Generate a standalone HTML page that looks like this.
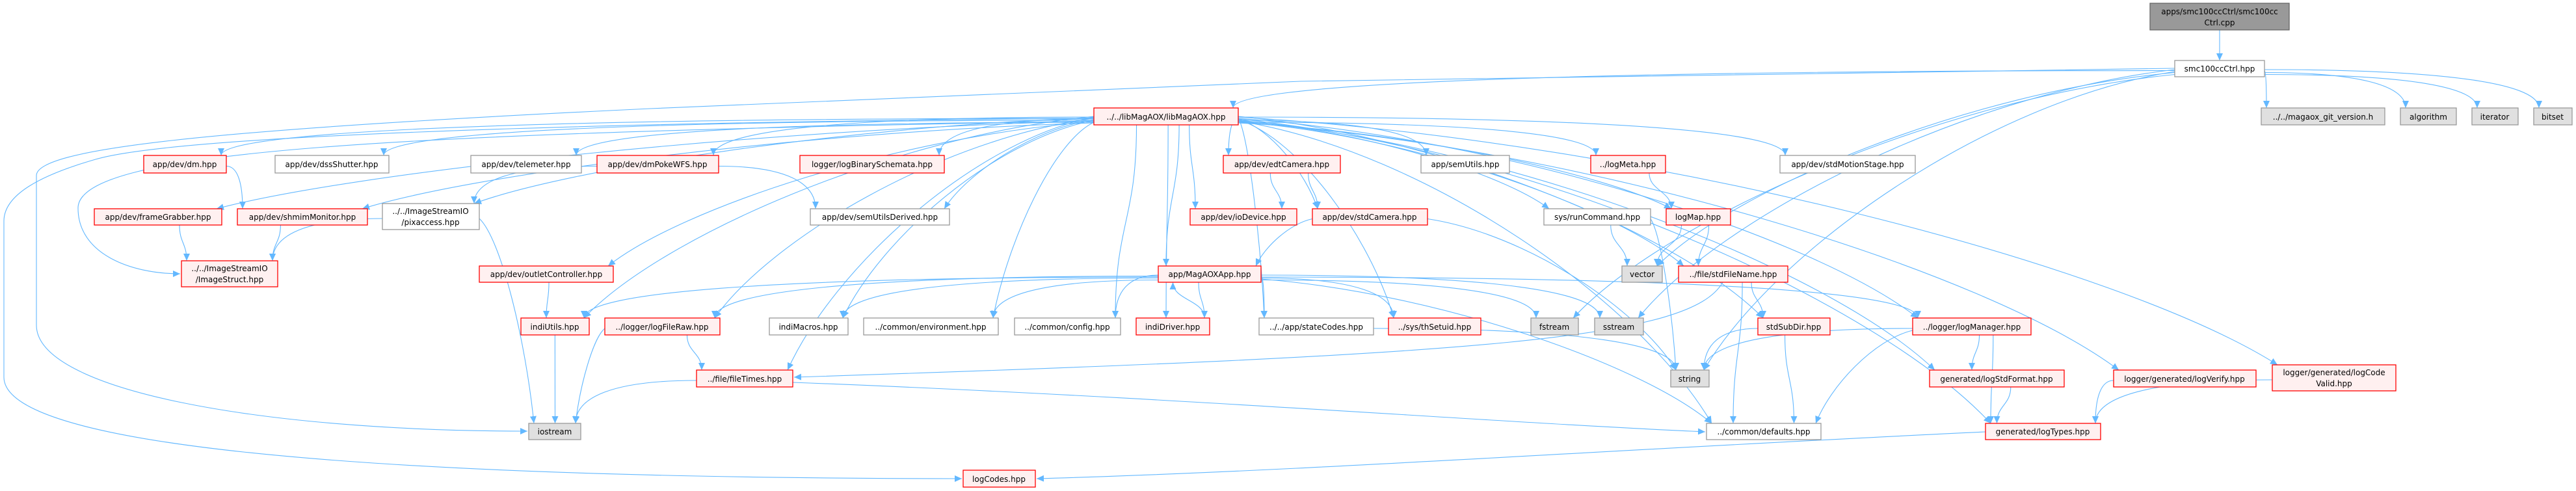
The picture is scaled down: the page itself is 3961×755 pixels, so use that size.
<!DOCTYPE html>
<html><head><meta charset="utf-8"><style>
html,body{margin:0;padding:0;background:#fff;}
svg{display:block;}
text{font-family:"DejaVu Sans","Liberation Sans",sans-serif;font-size:12px;fill:#000;text-anchor:middle;}
.r{fill:#fff0f0;stroke:#ff0000;stroke-width:1.3;}
.w{fill:#fff;stroke:#999;stroke-width:1.3;}
.g{fill:#e0e0e0;stroke:#999;stroke-width:1.3;}
.d{fill:#999;stroke:#666;stroke-width:1.3;}
#edges path{fill:none;stroke:#63b8ff;stroke-width:1.1;}
</style></head><body>
<svg id="s" width="3961" height="755" viewBox="0 0 3961 755" xmlns="http://www.w3.org/2000/svg">
<defs><marker id="a" markerUnits="userSpaceOnUse" markerWidth="12" markerHeight="10" refX="11" refY="5" orient="auto"><path d="M0,0 L11,5 L0,10 z" fill="#63b8ff"/></marker></defs>
<g id="edges"></g>
<g id="nodes">
<rect id="cpp" class="d" x="3306" y="5" width="214" height="41"/><text x="3413" y="22">apps/smc100ccCtrl/smc100cc</text><text x="3413" y="39">Ctrl.cpp</text>
<rect id="smc" class="w" x="3344" y="93" width="138" height="25"/><text x="3413" y="110">smc100ccCtrl.hpp</text>
<rect id="lib" class="r" x="1682" y="166" width="222" height="26"/><text x="1793" y="184">../../libMagAOX/libMagAOX.hpp</text>
<rect id="git" class="g" x="3477" y="166" width="190" height="26"/><text x="3572" y="184">../../magaox_git_version.h</text>
<rect id="alg" class="g" x="3691" y="166" width="86" height="26"/><text x="3734" y="184">algorithm</text>
<rect id="it" class="g" x="3801" y="166" width="71" height="26"/><text x="3836" y="184">iterator</text>
<rect id="bit" class="g" x="3896" y="166" width="59" height="26"/><text x="3925" y="184">bitset</text>

<rect id="dm" class="r" x="221" y="239" width="127" height="27"/><text x="284" y="257">app/dev/dm.hpp</text>
<rect id="dss" class="w" x="423" y="239" width="175" height="27"/><text x="510" y="257">app/dev/dssShutter.hpp</text>
<rect id="tele" class="w" x="724" y="239" width="170" height="27"/><text x="809" y="257">app/dev/telemeter.hpp</text>
<rect id="poke" class="r" x="918" y="239" width="187" height="27"/><text x="1011" y="257">app/dev/dmPokeWFS.hpp</text>
<rect id="bin" class="r" x="1230" y="239" width="222" height="27"/><text x="1341" y="257">logger/logBinarySchemata.hpp</text>
<rect id="edt" class="r" x="1881" y="239" width="180" height="27"/><text x="1971" y="257">app/dev/edtCamera.hpp</text>
<rect id="semu" class="w" x="2185" y="239" width="136" height="27"/><text x="2253" y="257">app/semUtils.hpp</text>
<rect id="meta" class="r" x="2446" y="239" width="115" height="27"/><text x="2503" y="257">../logMeta.hpp</text>
<rect id="motion" class="w" x="2737" y="239" width="208" height="27"/><text x="2841" y="257">app/dev/stdMotionStage.hpp</text>

<rect id="fg" class="r" x="145" y="321" width="196" height="25"/><text x="243" y="338">app/dev/frameGrabber.hpp</text>
<rect id="shm" class="r" x="365" y="321" width="200" height="25"/><text x="465" y="338">app/dev/shmimMonitor.hpp</text>
<rect id="pix" class="w" x="588" y="313" width="149" height="40"/><text x="662" y="329">../../ImageStreamIO</text><text x="662" y="346">/pixaccess.hpp</text>
<rect id="semd" class="w" x="1246" y="321" width="214" height="25"/><text x="1353" y="338">app/dev/semUtilsDerived.hpp</text>
<rect id="io" class="r" x="1830" y="321" width="164" height="25"/><text x="1912" y="338">app/dev/ioDevice.hpp</text>
<rect id="stdcam" class="r" x="2018" y="321" width="177" height="25"/><text x="2106" y="338">app/dev/stdCamera.hpp</text>
<rect id="run" class="w" x="2374" y="321" width="164" height="25"/><text x="2456" y="338">sys/runCommand.hpp</text>
<rect id="map" class="r" x="2562" y="321" width="99" height="25"/><text x="2611" y="338">logMap.hpp</text>

<rect id="is" class="r" x="279" y="401" width="148" height="40"/><text x="353" y="417">../../ImageStreamIO</text><text x="353" y="434">/ImageStruct.hpp</text>
<rect id="outlet" class="r" x="737" y="409" width="206" height="25"/><text x="840" y="426">app/dev/outletController.hpp</text>
<rect id="app" class="r" x="1781" y="409" width="158" height="25"/><text x="1860" y="426">app/MagAOXApp.hpp</text>
<rect id="vec" class="g" x="2494" y="409" width="62" height="25"/><text x="2525" y="426">vector</text>
<rect id="sfn" class="r" x="2581" y="409" width="168" height="25"/><text x="2665" y="426">../file/stdFileName.hpp</text>

<rect id="iu" class="r" x="801" y="489" width="105" height="26"/><text x="853" y="507">indiUtils.hpp</text>
<rect id="lfr" class="r" x="930" y="489" width="177" height="26"/><text x="1018" y="507">../logger/logFileRaw.hpp</text>
<rect id="im" class="w" x="1183" y="489" width="121" height="26"/><text x="1243" y="507">indiMacros.hpp</text>
<rect id="env" class="w" x="1328" y="489" width="207" height="26"/><text x="1431" y="507">../common/environment.hpp</text>
<rect id="cfg" class="w" x="1560" y="489" width="163" height="26"/><text x="1641" y="507">../common/config.hpp</text>
<rect id="idr" class="r" x="1747" y="489" width="113" height="26"/><text x="1803" y="507">indiDriver.hpp</text>
<rect id="sc" class="w" x="1936" y="489" width="176" height="26"/><text x="2024" y="507">../../app/stateCodes.hpp</text>
<rect id="ths" class="r" x="2135" y="489" width="142" height="26"/><text x="2206" y="507">../sys/thSetuid.hpp</text>
<rect id="fs" class="g" x="2354" y="489" width="73" height="26"/><text x="2390" y="507">fstream</text>
<rect id="ss" class="g" x="2452" y="489" width="75" height="26"/><text x="2489" y="507">sstream</text>
<rect id="ssd" class="r" x="2703" y="489" width="111" height="26"/><text x="2758" y="507">stdSubDir.hpp</text>
<rect id="lm" class="r" x="2941" y="489" width="182" height="26"/><text x="3032" y="507">../logger/logManager.hpp</text>

<rect id="ft" class="r" x="1071" y="569" width="148" height="26"/><text x="1145" y="587">../file/fileTimes.hpp</text>
<rect id="str" class="g" x="2569" y="569" width="59" height="26"/><text x="2598" y="587">string</text>
<rect id="lsf" class="r" x="2967" y="569" width="207" height="26"/><text x="3070" y="587">generated/logStdFormat.hpp</text>
<rect id="lv" class="r" x="3250" y="569" width="219" height="26"/><text x="3359" y="587">logger/generated/logVerify.hpp</text>
<rect id="lcv" class="r" x="3494" y="561" width="190" height="40"/><text x="3589" y="577">logger/generated/logCode</text><text x="3589" y="594">Valid.hpp</text>

<rect id="ios" class="g" x="813" y="651" width="80" height="25"/><text x="853" y="668">iostream</text>
<rect id="def" class="w" x="2624" y="651" width="176" height="25"/><text x="2712" y="668">../common/defaults.hpp</text>
<rect id="lt" class="r" x="3053" y="651" width="177" height="25"/><text x="3141" y="668">generated/logTypes.hpp</text>

<rect id="lc" class="r" x="1481" y="723" width="111" height="26"/><text x="1536" y="741">logCodes.hpp</text>
</g>
</svg>
<script>
(function(){
var NS="http://www.w3.org/2000/svg",E=document.getElementById("edges");
function b(id){var r=document.getElementById(id);var x=+r.getAttribute("x"),y=+r.getAttribute("y"),w=+r.getAttribute("width"),h=+r.getAttribute("height");return{x1:x,x2:x+w,y1:y,y2:y+h,cx:x+w/2,cy:y+h/2,h:h,w:w};}
function cl(v,a,c){return Math.max(a,Math.min(c,v));}
function add(d){var p=document.createElementNS(NS,"path");p.setAttribute("d",d);p.setAttribute("marker-end","url(#a)");E.appendChild(p);}
var cnt={};
function e(a,c){var s=b(a),t=b(c);var sx,sy,tx,ty;
 if(t.y1>=s.y2){
  var dx=t.cx-s.cx,dyy=t.y1-s.y2;
  tx=cl(s.cx,t.x1+8,t.x2-8);ty=t.y1;
  if(Math.abs(dx)>s.w/2+60){
   var side=dx>0?1:-1;var k=a+side;cnt[k]=(cnt[k]||0)+1;
   sx=side>0?s.x2:s.x1;sy=s.cy+((cnt[k]*3)%(s.h/2-2));
   if(dyy<60){
    add("M"+sx+","+sy+" C"+(sx+(tx-sx)*0.7)+","+sy+" "+tx+","+(sy+(ty-sy)*0.4)+" "+tx+","+ty);
   } else {
    add("M"+sx+","+sy+" C"+(sx+(tx-sx)*0.4)+","+(sy+(ty-sy)*0.1)+" "+(tx-(tx-sx)*0.15)+","+(ty-(ty-sy)*0.4)+" "+tx+","+ty);
   }
   return;
  }
  sx=cl(s.cx+dx*0.3,s.x1+6,s.x2-6);sy=s.y2;}
 else{sx=cl(t.cx,s.x1+8,s.x2-8);sy=s.y1;tx=cl(s.cx,t.x1+8,t.x2-8);ty=t.y2;}
 var dy=(ty-sy)/2;add("M"+sx+","+sy+" C"+sx+","+(sy+dy)+" "+tx+","+(ty-dy)+" "+tx+","+ty);}
var L=[["cpp","smc"],["smc","lib"],["smc","git"],["smc","alg"],["smc","it"],["smc","bit"],["smc","vec"],["smc","fs"],["smc","ss"],["smc","str"],
["lib","dm"],["lib","dss"],["lib","tele"],["lib","poke"],["lib","bin"],["lib","edt"],["lib","semu"],["lib","meta"],["lib","motion"],["lib","fg"],["lib","shm"],["lib","pix"],["lib","semd"],["lib","io"],["lib","stdcam"],["lib","run"],["lib","map"],["lib","outlet"],["lib","app"],["lib","iu"],["lib","lfr"],["lib","im"],["lib","env"],["lib","cfg"],["lib","idr"],["lib","sc"],["lib","ths"],["lib","sfn"],["lib","ssd"],["lib","lm"],["lib","lsf"],["lib","lv"],["lib","lcv"],["lib","lt"],["lib","ft"],["lib","def"],
["app","lfr"],["app","im"],["app","env"],["app","cfg"],["app","idr"],["app","sc"],["app","ths"],["app","fs"],["app","ss"],["app","lm"],["app","iu"],["app","def"],["idr","app"],
["dm","shm"],["poke","pix"],["poke","semd"],["fg","is"],["shm","is"],["pix","is"],["pix","ios"],["outlet","iu"],["iu","ios"],["lfr","ios"],["lfr","ft"],["ft","ios"],
["edt","io"],["edt","stdcam"],["stdcam","app"],["stdcam","str"],["meta","map"],["map","vec"],["map","sfn"],["run","vec"],["run","str"],["sfn","ssd"],["sfn","def"],["ssd","str"],["ssd","def"],
["lm","str"],["lm","def"],["lm","lsf"],["lm","lt"],["lsf","lt"],["lv","lt"],["lcv","lt"],["sc","str"]];
L.forEach(function(p){e(p[0],p[1]);});
add("M3344,105 L2000,125 L1000,167 C300,200 56,230 56,270 L56,500 C56,600 400,663 811,663");
add("M1682,182 C1200,185 300,200 147,245 C60,270 6,300 6,340 L6,580 C6,680 500,735 1479,736");
add("M1682,186 C600,205 120,230 120,320 C120,390 200,421 277,421");
add("M3053,664 C2500,690 2000,725 1594,736");
add("M1219,588 C1800,610 2300,650 2622,664");
add("M2649,434 C2600,520 2300,545 1221,580");
})();
</script>
</body></html>
